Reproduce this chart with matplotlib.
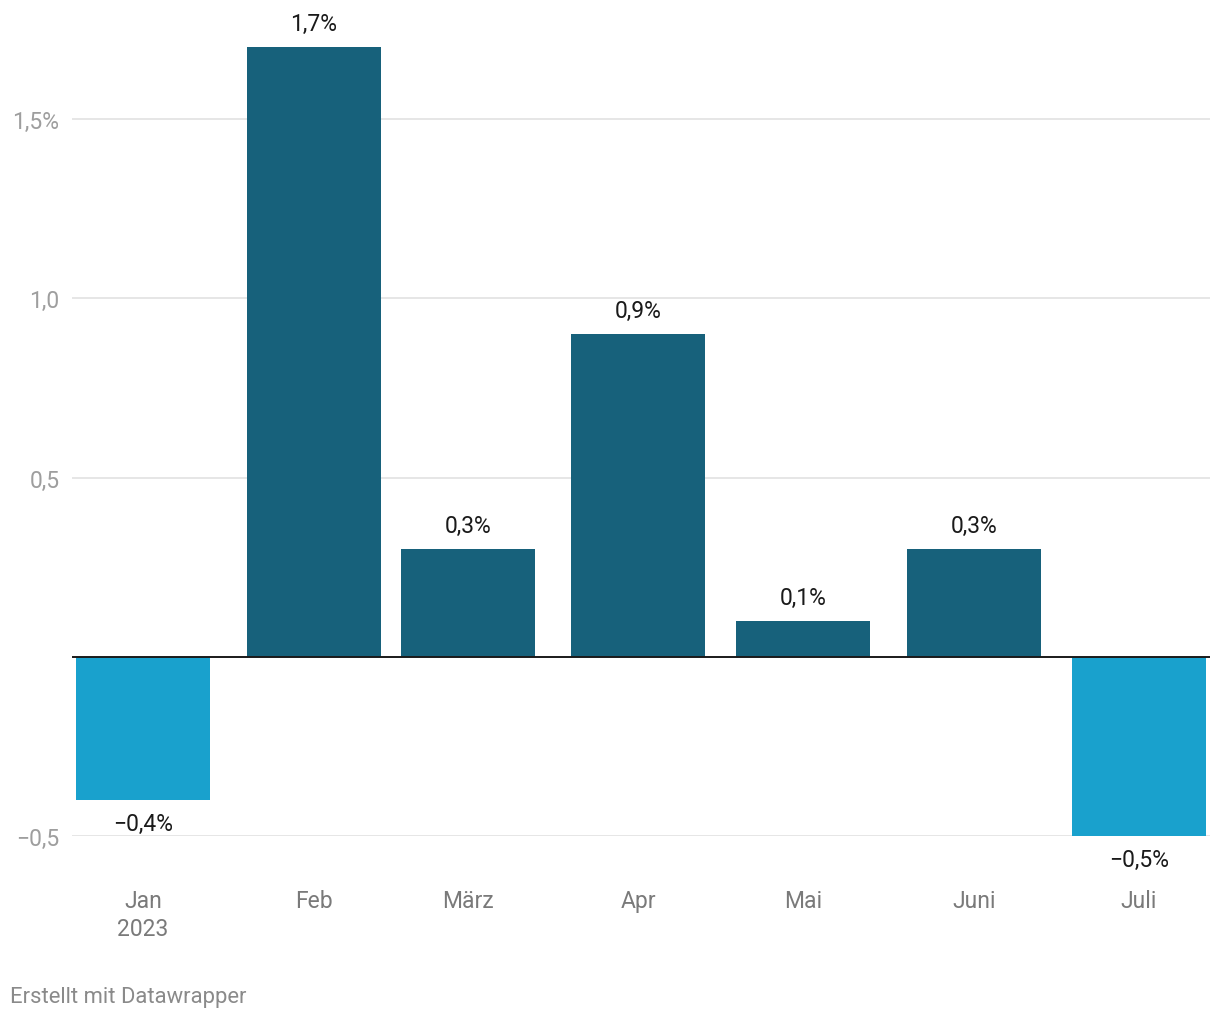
"""Monthly change bar chart, Datawrapper style."""

import matplotlib.pyplot as plt
import matplotlib.dates as mdates
import pandas as pd

plt.rcParams["font.family"] = ["Roboto", "DejaVu Sans"]

months = ["2023-01-01", "2023-02-01", "2023-03-01", "2023-04-01",
          "2023-05-01", "2023-06-01", "2023-07-01"]
month_labels = ["Jan\n2023", "Feb", "März", "Apr", "Mai", "Juni", "Juli"]
values = [-0.4, 1.7, 0.3, 0.9, 0.1, 0.3, -0.5]
value_labels = ["−0,4%", "1,7%", "0,3%", "0,9%", "0,1%", "0,3%", "−0,5%"]
yticks = [-0.5, 0.5, 1.0, 1.5]
ytick_labels = ["−0,5", "0,5", "1,0", "1,5%"]

DARK = "#17617b"
LIGHT = "#19a1cd"

dates = mdates.date2num(pd.to_datetime(months))

W, H = 1220, 1020
fig = plt.figure(figsize=(W / 100, H / 100), dpi=100)
ax = fig.add_axes([72 / W, 1 - 837 / H, (1210 - 72) / W, (837 - 12.5) / H])

colors = [DARK if v >= 0 else LIGHT for v in values]
ax.bar(dates, values, width=24.35, color=colors, zorder=2)

for x, v, lab in zip(dates, values, value_labels):
    ax.annotate(lab, (x, v), xytext=(0, 17 if v >= 0 else -17),
                textcoords="offset points", ha="center", va="center",
                fontsize=16.5, color="#1a1a1a")

ax.axhline(0, color="#1a1a1a", linewidth=1.4, zorder=3)
for y in yticks:
    ax.axhline(y, color="#e2e2e2", linewidth=1.2, zorder=1)

ax.set_xlim(dates[0] - 12.9, dates[-1] + 12.9)
ax.set_ylim(-0.5, 1.8)

ax.set_yticks(yticks, ytick_labels)
ax.tick_params(axis="y", length=0, pad=9, labelsize=16.5, labelcolor="#9e9e9e")
ax.set_xticks(dates, month_labels)
ax.tick_params(axis="x", length=0, pad=38, labelsize=16.5, labelcolor="#7a7a7a")
for t in ax.get_xticklabels():
    t.set_linespacing(1.3)

for s in ax.spines.values():
    s.set_visible(False)

fig.text(10 / W, 1 - 998 / H, "Erstellt mit Datawrapper", fontsize=15.8,
         color="#8a8a8a", va="center", ha="left")

fig.savefig("out.png", dpi=100)
